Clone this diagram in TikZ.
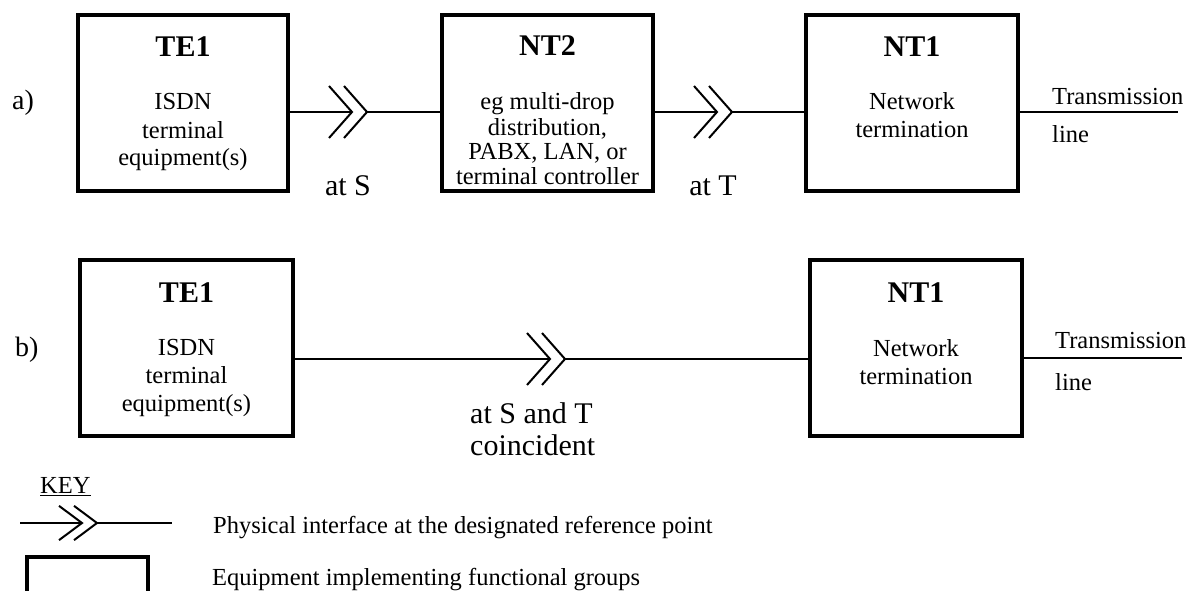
\documentclass[tikz,border=0pt]{standalone}
\usepackage{fontspec}
\setmainfont{Liberation Serif}
\begin{document}
\begin{tikzpicture}[x=1pt,y=-1pt,
  box/.style={draw,line width=3.5pt,rectangle,inner sep=0pt,minimum height=176pt},
  conn/.style={line width=2pt},
  title/.style={anchor=base,inner sep=0pt,font=\fontsize{30}{34}\selectfont\bfseries},
  body/.style={anchor=base,inner sep=0pt,align=center,font=\fontsize{24.5}{28}\selectfont},
  lbl/.style={anchor=base,inner sep=0pt,font=\fontsize{30}{32}\selectfont},
  small/.style={anchor=base west,inner sep=0pt,font=\fontsize{24.5}{28}\selectfont},
  chev/.pic={
    \draw[conn] (-23,-26) -- (0,0) -- (-23,26);
    \draw[conn] (-8,-26) -- (15,0) -- (-8,26);
  }]
\clip (0,0) rectangle (1189,591);
% ---------- a) ----------
\node[small,font=\fontsize{28}{30}\selectfont] (la) at (12,110) {a)};
\node[box,minimum width=210pt] (te1a) at (183,103) {};
\node[box,minimum width=211pt] (nt2) at (547.5,103) {};
\node[box,minimum width=212pt] (nt1a) at (912,103) {};
\node[title] (te1at) at (te1a.center |- 0,57) {TE1};
\node[body] (te1ab) at (te1a.center |- 0,166) {ISDN\\terminal\\equipment(s)};
\node[title] (nt2t) at (nt2.center |- 0,56) {NT2};
\node[body,font=\fontsize{24.5}{25}\selectfont] (nt2b) at (nt2.center |- 0,185) {eg multi-drop\\distribution,\\PABX, LAN, or\\terminal controller};
\node[title] (nt1at) at (nt1a.center |- 0,57) {NT1};
\node[body] (nt1ab) at (nt1a.center |- 0,138) {Network\\termination};
\coordinate (sa) at (352,112);
\coordinate (sb) at (367,112);
\coordinate (ta) at (717,112);
\coordinate (tb) at (732,112);
\coordinate (enda) at (1178,112);
\pic at (sa) {chev};
\pic at (ta) {chev};
\draw[conn] (te1a.east |- sa) -- (sa);
\draw[conn] (sb) -- (nt2.west |- sb);
\draw[conn] (nt2.east |- ta) -- (ta);
\draw[conn] (tb) -- (nt1a.west |- tb);
\draw[conn] (nt1a.east |- enda) -- (enda);
\node[lbl] (ats) at (348,195) {at S};
\node[lbl] (att) at (713,195) {at T};
\node[small] (trA) at (1052,105) {Transmission};
\node[small] (lnA) at (1052,143) {line};
% ---------- b) ----------
\node[small,font=\fontsize{28}{30}\selectfont] (lb) at (15,356) {b)};
\node[box,minimum width=213pt] (te1b) at (186.5,348) {};
\node[box,minimum width=212pt] (nt1b) at (916,348) {};
\node[title] (te1bt) at (te1b.center |- 0,302) {TE1};
\node[body] (te1bb) at (te1b.center |- 0,411) {ISDN\\terminal\\equipment(s)};
\node[title] (nt1bt) at (nt1b.center |- 0,302) {NT1};
\node[body] (nt1bb) at (nt1b.center |- 0,384) {Network\\termination};
\coordinate (sta) at (550,359);
\coordinate (stb) at (565,359);
\coordinate (endb) at (1182,358);
\pic at (sta) {chev};
\draw[conn] (te1b.east |- sta) -- (sta);
\draw[conn] (stb) -- (nt1b.west |- stb);
\draw[conn] (nt1b.east |- endb) -- (endb);
\node[lbl,anchor=base west,align=left,font=\fontsize{30}{32}\selectfont] (stl) at (470,455) {at S and T\\coincident};
\node[small] (trB) at (1055,348) {Transmission};
\node[small] (lnB) at (1055,390) {line};
% ---------- key ----------
\node[small] (key) at (40,493) {KEY};
\draw[line width=1.2pt] (key.base west) ++(0,2.5) coordinate (ku) -- (key.base east |- ku);
\coordinate (kA) at (82,523);
\coordinate (kB) at (97,523);
\coordinate (kL) at (20,523);
\coordinate (kR) at (172,523);
\pic[yscale=0.66] at (kA) {chev};
\draw[conn] (kL) -- (kA);
\draw[conn] (kB) -- (kR);
\node[small] (phys) at (213,533) {Physical interface at the designated reference point};
\node[box,minimum width=121pt,minimum height=90pt] (kbox) at (87.5,602) {};
\node[small] (equip) at (212,585) {Equipment implementing functional groups};
\end{tikzpicture}
\end{document}
